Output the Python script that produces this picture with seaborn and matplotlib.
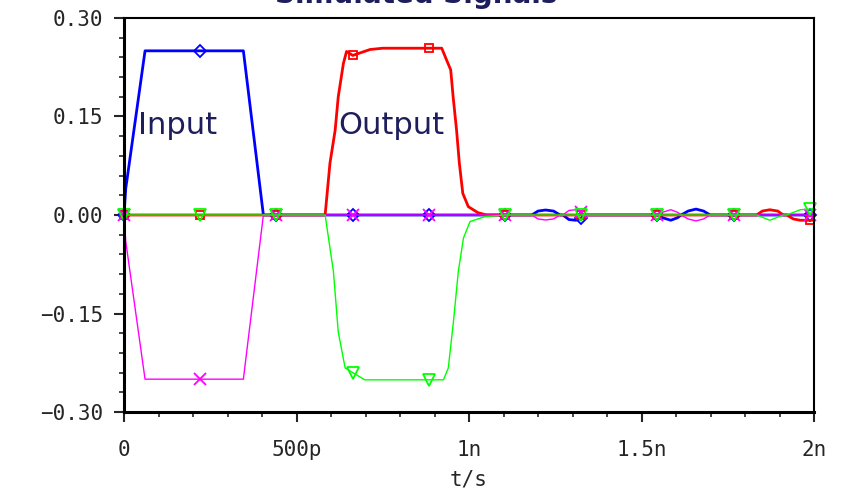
import numpy as np
import pandas as pd
import matplotlib
matplotlib.use("Agg")
import matplotlib.pyplot as plt
import seaborn as sns
from matplotlib.ticker import MultipleLocator

# time axis in ns
marker_t = [0, 0.221, 0.442, 0.663, 0.884, 1.105, 1.325, 1.546, 1.767, 1.988]

t_blue = [0, 0.005, 0.061, 0.221, 0.346, 0.404, 0.442, 0.663, 0.884, 1.105, 1.182, 1.2, 1.222, 1.245,
          1.264, 1.272, 1.29, 1.31, 1.325, 1.336, 1.546, 1.56, 1.585, 1.605, 1.615, 1.635, 1.658,
          1.68, 1.699, 1.767, 1.988, 2.0]
v_blue = [0, 0.04, 0.25, 0.25, 0.25, 0, 0, 0, 0, 0, 0, 0.006, 0.0076, 0.006, 0, 0, -0.007, -0.008,
          -0.005, 0, 0, -0.004, -0.008, -0.004, 0, 0.006, 0.009, 0.006, 0, 0, 0, 0]
v_magenta = [0, -0.04, -0.25, -0.25, -0.25, 0, 0, 0, 0, 0, 0, -0.006, -0.0076, -0.006, 0, 0, 0.007,
             0.008, 0.005, 0, 0, 0.004, 0.008, 0.004, 0, -0.006, -0.009, -0.006, 0, 0, 0, 0]

t_red = [0, 0.221, 0.442, 0.583, 0.597, 0.612, 0.621, 0.636, 0.645, 0.663, 0.713, 0.75, 0.884, 0.921,
         0.935, 0.947, 0.954, 0.964, 0.972, 0.982, 0.998, 1.026, 1.051, 1.105, 1.325, 1.546, 1.767,
         1.834, 1.85, 1.872, 1.895, 1.911, 1.921, 1.94, 1.96, 1.988, 2.0]
v_red = [0, 0, 0, 0, 0.079, 0.129, 0.18, 0.231, 0.249, 0.243, 0.252, 0.254, 0.254, 0.254, 0.236,
         0.221, 0.18, 0.129, 0.079, 0.033, 0.0127, 0.0035, 0, 0, 0, 0, 0, 0, 0.006, 0.008, 0.006, 0,
         0, -0.006, -0.008, -0.008, -0.008]

t_green = [0, 0.221, 0.442, 0.583, 0.607, 0.621, 0.641, 0.663, 0.698, 0.884, 0.926, 0.94, 0.955,
           0.969, 0.984, 1.003, 1.046, 1.105, 1.325, 1.546, 1.767, 1.834, 1.872, 1.911, 1.921, 1.96,
           1.988, 2.0]
v_green = [0, 0, 0, 0, -0.086, -0.178, -0.233, -0.24, -0.251, -0.251, -0.251, -0.233, -0.162,
           -0.086, -0.035, -0.010, -0.0025, 0, 0, 0, 0, 0, -0.008, 0, 0, 0.008, 0.009, 0.01]

y_ticks = [0.30, 0.15, 0.0, -0.15, -0.30]
y_labels = ["0.30", "0.15", "0.00", "\u22120.15", "\u22120.30"]
x_ticks = [0, 0.5, 1.0, 1.5, 2.0]
x_labels = ["0", "500p", "1n", "1.5n", "2n"]

NAVY = "#1e1e5c"

sns.set_theme(style="ticks")
plt.rcParams["font.family"] = ["DejaVu Sans"]

fig = plt.figure(figsize=(8.46, 4.91), dpi=100)
ax = fig.add_axes([124 / 846, 1 - 412 / 491, 690 / 846, 394 / 491])


def draw(t, v, color, lw, marker, ms):
    idx = [t.index(m) for m in marker_t]
    sns.lineplot(x=t, y=v, ax=ax, estimator=None, sort=False, color=color, lw=lw,
                 marker=marker, markersize=ms, markevery=idx, markerfacecolor="none",
                 markeredgecolor=color, markeredgewidth=1.3, clip_on=False)


draw(t_blue, v_blue, "#0000ff", 2.0, "D", 6)
draw(t_red, v_red, "#ff0000", 2.0, "s", 6)
draw(t_blue, v_magenta, "#ff00ff", 1.0, "x", 8)
draw(t_green, v_green, "#00ff00", 1.0, "v", 8)

ax.set_xlim(0, 2)
ax.set_ylim(-0.3, 0.3)
ax.set_xticks(x_ticks, x_labels)
ax.set_yticks(y_ticks, y_labels)
ax.xaxis.set_minor_locator(MultipleLocator(0.1))
ax.yaxis.set_minor_locator(MultipleLocator(0.03))
ax.tick_params(which="major", direction="out", length=7, width=1.5, labelsize=15)
ax.tick_params(axis="y", which="major", pad=8)
ax.tick_params(axis="x", which="major", pad=13)
ax.tick_params(which="minor", direction="out", length=3.5, width=1.2)
for lab in ax.get_xticklabels() + ax.get_yticklabels():
    lab.set_family("DejaVu Sans Mono")

for side in ["left", "bottom"]:
    ax.spines[side].set_linewidth(2.2)
for side in ["top", "right"]:
    ax.spines[side].set_linewidth(1.5)
for sp in ax.spines.values():
    sp.set_color("black")

ax.set_xlabel("t/s", family="DejaVu Sans Mono", fontsize=15, labelpad=7)
ax.set_ylabel("")

ax.text(0.04, 0.137, "Input", fontsize=22, color=NAVY, va="center", ha="left")
ax.text(0.62, 0.137, "Output", fontsize=22, color=NAVY, va="center", ha="left")

# title sits mostly above the canvas in the original, only its lower edge shows
fig.text(0.492, 0.994, "Simulated Signals", ha="center", va="baseline", fontsize=20,
         fontweight="bold", color=NAVY)

fig.savefig("out.png", dpi=100)
